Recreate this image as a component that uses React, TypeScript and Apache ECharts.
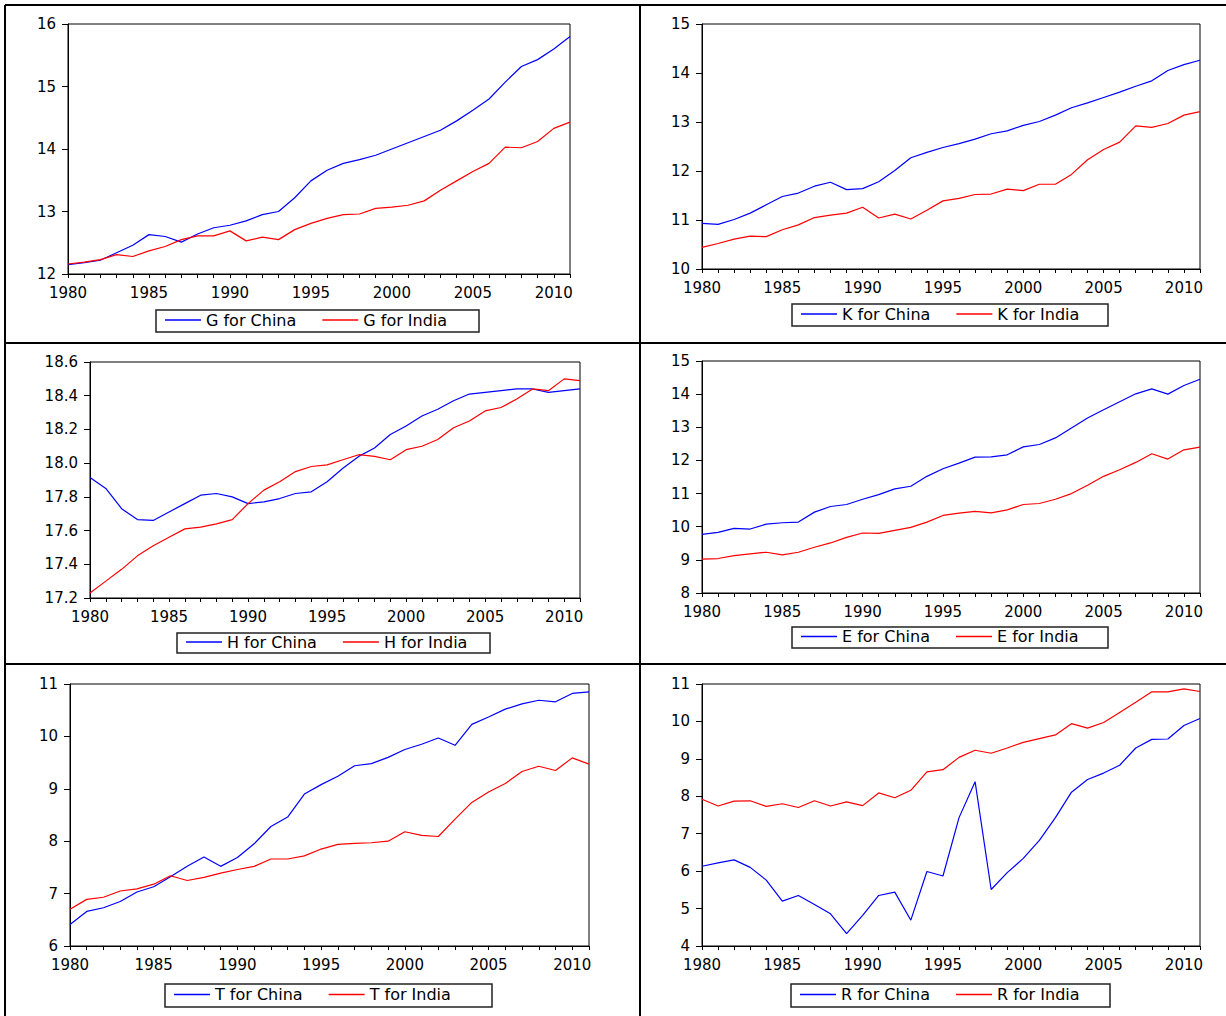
import React, { useEffect, useRef } from "react";
import * as echarts from "echarts";

const years = [1980, 1981, 1982, 1983, 1984, 1985, 1986, 1987, 1988, 1989, 1990, 1991, 1992, 1993, 1994, 1995, 1996, 1997, 1998, 1999, 2000, 2001, 2002, 2003, 2004, 2005, 2006, 2007, 2008, 2009, 2010, 2011];

const gChina = [12.15, 12.18, 12.22, 12.34, 12.46, 12.63, 12.6, 12.51, 12.64, 12.74, 12.78, 12.85, 12.95, 13.0, 13.22, 13.49, 13.66, 13.77, 13.83, 13.9, 14.0, 14.1, 14.2, 14.3, 14.45, 14.62, 14.8, 15.07, 15.32, 15.43, 15.6, 15.8];
const gIndia = [12.16, 12.19, 12.23, 12.31, 12.28, 12.37, 12.44, 12.55, 12.61, 12.61, 12.69, 12.53, 12.59, 12.55, 12.71, 12.81, 12.89, 12.95, 12.96, 13.05, 13.07, 13.1, 13.17, 13.34, 13.49, 13.64, 13.77, 14.03, 14.02, 14.12, 14.33, 14.43];

const kChina = [10.93, 10.91, 11.01, 11.14, 11.31, 11.48, 11.55, 11.69, 11.77, 11.62, 11.64, 11.78, 12.01, 12.27, 12.38, 12.48, 12.56, 12.65, 12.76, 12.82, 12.93, 13.01, 13.14, 13.29, 13.39, 13.5, 13.61, 13.73, 13.84, 14.05, 14.17, 14.26];
const kIndia = [10.44, 10.52, 10.61, 10.67, 10.66, 10.8, 10.9, 11.05, 11.1, 11.14, 11.26, 11.04, 11.12, 11.02, 11.2, 11.39, 11.44, 11.52, 11.53, 11.63, 11.6, 11.73, 11.73, 11.93, 12.23, 12.44, 12.59, 12.92, 12.89, 12.97, 13.14, 13.21];

const hChina = [17.915, 17.85, 17.73, 17.665, 17.66, 17.71, 17.76, 17.81, 17.82, 17.8, 17.76, 17.77, 17.79, 17.82, 17.83, 17.89, 17.97, 18.04, 18.09, 18.17, 18.22, 18.28, 18.32, 18.37, 18.41, 18.42, 18.43, 18.44, 18.44, 18.42, 18.43, 18.44];
const hIndia = [17.23, 17.3, 17.37, 17.45, 17.51, 17.56, 17.61, 17.62, 17.64, 17.665, 17.76, 17.84, 17.89, 17.95, 17.98, 17.99, 18.02, 18.05, 18.04, 18.02, 18.08, 18.1, 18.14, 18.21, 18.25, 18.31, 18.33, 18.38, 18.44, 18.43, 18.5, 18.49];

const eChina = [9.77, 9.83, 9.95, 9.93, 10.08, 10.12, 10.14, 10.44, 10.61, 10.67, 10.83, 10.97, 11.14, 11.22, 11.52, 11.75, 11.92, 12.1, 12.11, 12.17, 12.41, 12.48, 12.68, 12.98, 13.28, 13.53, 13.77, 14.01, 14.16, 14.0, 14.26, 14.45];
const eIndia = [9.02, 9.04, 9.13, 9.18, 9.23, 9.15, 9.23, 9.38, 9.51, 9.68, 9.81, 9.8, 9.89, 9.98, 10.14, 10.34, 10.41, 10.46, 10.42, 10.51, 10.67, 10.7, 10.83, 11.0, 11.25, 11.52, 11.72, 11.94, 12.2, 12.04, 12.32, 12.4];

const tChina = [6.41, 6.66, 6.73, 6.85, 7.03, 7.13, 7.32, 7.52, 7.7, 7.52, 7.69, 7.95, 8.28, 8.46, 8.9, 9.08, 9.24, 9.44, 9.48, 9.6, 9.75, 9.85, 9.97, 9.83, 10.23, 10.37, 10.52, 10.62, 10.69, 10.66, 10.82, 10.85];
const tIndia = [6.7, 6.89, 6.93, 7.05, 7.09, 7.18, 7.34, 7.25, 7.31, 7.39, 7.46, 7.52, 7.66, 7.66, 7.72, 7.85, 7.94, 7.96, 7.97, 8.0, 8.18, 8.11, 8.09, 8.42, 8.74, 8.94, 9.1, 9.33, 9.43, 9.35, 9.59, 9.47];

const rChina = [6.13, 6.22, 6.3, 6.1, 5.76, 5.2, 5.35, 5.11, 4.86, 4.33, 4.82, 5.35, 5.44, 4.69, 5.99, 5.87, 7.43, 8.39, 5.51, 5.96, 6.34, 6.82, 7.43, 8.11, 8.45, 8.62, 8.83, 9.29, 9.52, 9.53, 9.89, 10.08];
const rIndia = [7.92, 7.74, 7.87, 7.88, 7.73, 7.8, 7.7, 7.88, 7.74, 7.85, 7.75, 8.09, 7.96, 8.16, 8.65, 8.71, 9.04, 9.23, 9.15, 9.29, 9.44, 9.54, 9.64, 9.94, 9.82, 9.97, 10.24, 10.51, 10.79, 10.79, 10.87, 10.8];

const variableNames = ["G", "K", "H", "E", "T", "R"];
const chinaSeries = [gChina, kChina, hChina, eChina, tChina, rChina];
const indiaSeries = [gIndia, kIndia, hIndia, eIndia, tIndia, rIndia];
const yMins = [12, 10, 17.2, 8, 6, 4];
const yMaxs = [16, 15, 18.6, 15, 11, 11];
const yIntervals = [1, 1, 0.2, 1, 1, 1];
const yDecimals = [0, 0, 1, 0, 0, 0];

// layout (pixels): plot rectangles [left, top, right, bottom]
const plotRects = [
  [68, 24, 570, 274],
  [702, 24, 1200, 269],
  [90, 362, 580, 598],
  [702, 361, 1200, 593],
  [70, 684, 589, 946],
  [702, 684, 1200, 946],
];
// legend boxes [left, top, right, bottom]
const legendBoxes = [
  [156, 310, 479, 332],
  [792, 304, 1108, 326],
  [177, 633, 490, 653],
  [792, 627, 1108, 648],
  [165, 984, 492, 1007],
  [791, 984, 1110, 1007],
];

const FONT = "'DejaVu Sans', Arial, sans-serif";
const BLUE = "#0000ff";
const RED = "#ff0000";

export default function App() {
  const ref = useRef<HTMLDivElement>(null);

  useEffect(() => {
    if (!ref.current) return;
    const chart = echarts.init(ref.current, null, { renderer: "svg" });

    const grids: any[] = [];
    const xAxes: any[] = [];
    const yAxes: any[] = [];
    const series: any[] = [];
    const legends: any[] = [];
    const graphics: any[] = [];

    variableNames.forEach((v, i) => {
      const [l, t, r, b] = plotRects[i];
      grids.push({
        left: l,
        top: t,
        width: r - l,
        height: b - t,
        show: true,
        borderColor: "#000",
        borderWidth: 1,
        backgroundColor: "transparent",
      });
      xAxes.push({
        type: "value",
        gridIndex: i,
        min: 1980,
        max: 2011,
        interval: 1,
        axisLine: { show: true, onZero: false, lineStyle: { color: "#000", width: 1 } },
        axisTick: { show: true, length: 4, lineStyle: { color: "#000", width: 1 } },
        axisLabel: {
          show: true,
          margin: 12,
          color: "#000",
          fontSize: 15,
          lineHeight: 13,
          fontFamily: FONT,
          formatter: (val: number) => (Math.round(val) % 5 === 0 ? String(Math.round(val)) : ""),
        },
        splitLine: { show: false },
      });
      yAxes.push({
        type: "value",
        gridIndex: i,
        min: yMins[i],
        max: yMaxs[i],
        interval: yIntervals[i],
        axisLine: { show: true, onZero: false, lineStyle: { color: "#000", width: 1 } },
        axisTick: { show: true, length: 6, lineStyle: { color: "#000", width: 1 } },
        axisLabel: {
          show: true,
          margin: 12,
          color: "#000",
          fontSize: 15,
          lineHeight: 13,
          fontFamily: FONT,
          formatter: (val: number) => val.toFixed(yDecimals[i]),
        },
        splitLine: { show: false },
      });
      const chinaName = `${v} for China`;
      const indiaName = `${v} for India`;
      series.push({
        type: "line",
        name: chinaName,
        xAxisIndex: i,
        yAxisIndex: i,
        data: years.map((yr, k) => [yr, chinaSeries[i][k]]),
        symbol: "none",
        lineStyle: { color: BLUE, width: 1.2 },
        itemStyle: { color: BLUE },
      });
      series.push({
        type: "line",
        name: indiaName,
        xAxisIndex: i,
        yAxisIndex: i,
        data: years.map((yr, k) => [yr, indiaSeries[i][k]]),
        symbol: "none",
        lineStyle: { color: RED, width: 1.2 },
        itemStyle: { color: RED },
      });

      const [bl, bt, br, bb] = legendBoxes[i];
      const cy = (bt + bb) / 2;
      legends.push({
        data: [chinaName, indiaName],
        left: bl + 9,
        top: cy - 9,
        orient: "horizontal",
        padding: 0,
        icon: "rect",
        itemWidth: 36,
        itemHeight: 1.4,
        itemGap: 26,
        selectedMode: false,
        textStyle: { fontSize: 16, fontFamily: FONT, color: "#000", width: 100 },
      });
      graphics.push({
        type: "rect",
        shape: { x: bl, y: bt, width: br - bl, height: bb - bt },
        style: { fill: "transparent", stroke: "#222", lineWidth: 1.5 },
        z: 0,
      });
    });

    // panel dividers
    const W = 1226;
    const H = 1016;
    const lines = [
      [5, 5, W, 5],
      [5, 5, 5, H],
      [640, 5, 640, H],
      [5, 343, W, 343],
      [5, 664, W, 664],
    ];
    lines.forEach(([x1, y1, x2, y2]) => {
      graphics.push({
        type: "line",
        shape: { x1, y1, x2, y2 },
        style: { stroke: "#000", lineWidth: 2 },
      });
    });

    chart.setOption({
      animation: false,
      backgroundColor: "#ffffff",
      grid: grids,
      xAxis: xAxes,
      yAxis: yAxes,
      series,
      legend: legends,
      graphic: graphics,
    });

    return () => {
      chart.dispose();
    };
  }, []);

  return (
    <div
      ref={ref}
      style={{ position: "absolute", left: 0, top: 0, width: 1226, height: 1016 }}
    />
  );
}
